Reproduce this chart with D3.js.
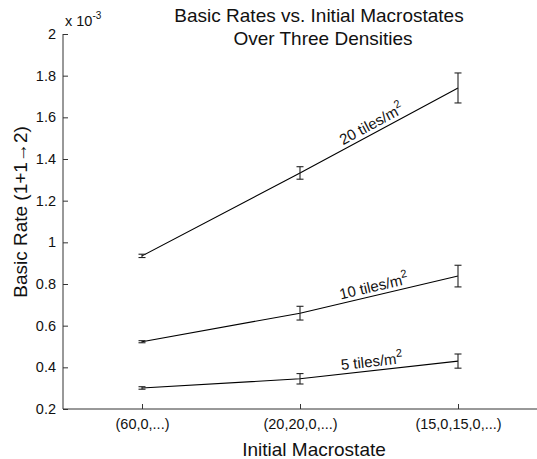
<!DOCTYPE html>
<html>
<head>
<meta charset="utf-8">
<title>Basic Rates vs. Initial Macrostates</title>
<script src="https://d3js.org/d3.v7.min.js"></script>
<style>
  body { margin: 0; background: #fff; }
  text { font-family: "Liberation Sans", Arial, sans-serif; fill: #111; }
</style>
</head>
<body>
<script>

// data (values in units of 1e-3)
var macrostates = ["(60,0,...)", "(20,20,0,...)", "(15,0,15,0,...)"];
var densities = ["20 tiles/m", "10 tiles/m", "5 tiles/m"];
var rate20 = [0.935, 1.333, 1.741];
var err20 = [0.008, 0.030, 0.072];
var rate10 = [0.523, 0.660, 0.838];
var err10 = [0.005, 0.033, 0.052];
var rate5 = [0.301, 0.345, 0.430];
var err5 = [0.006, 0.025, 0.034];
var yTicks = [0.2, 0.4, 0.6, 0.8, 1, 1.2, 1.4, 1.6, 1.8, 2];

var series = [
  {name: densities[0], vals: rate20, errs: err20, labelAt: 2.48},
  {name: densities[1], vals: rate10, errs: err10, labelAt: 2.48},
  {name: densities[2], vals: rate5, errs: err5, labelAt: 2.46}
];

var margin = {top: 34, right: 0, bottom: 50, left: 63},
    width = 537 - margin.left - margin.right,
    height = 459 - margin.top - margin.bottom;

var svg = d3.select("body").append("svg")
    .attr("width", 537)
    .attr("height", 459);

var g = svg.append("g")
    .attr("transform", "translate(" + margin.left + "," + margin.top + ")");

var x = d3.scaleLinear().domain([0.5, 3.5]).range([0, width]);
var y = d3.scaleLinear().domain([0.2, 2]).range([height, 0]);

// axes: matlab style, ticks inward
var yAxis = d3.axisLeft(y).tickValues(yTicks).tickSize(-5).tickPadding(7)
    .tickFormat(function(d) { return d3.format("")(+d.toFixed(1)); });
var xAxis = d3.axisBottom(x).tickValues([1, 2, 3]).tickSize(-5).tickPadding(10)
    .tickFormat(function(d) { return macrostates[d - 1]; });

g.append("g")
    .attr("class", "y axis")
    .call(yAxis)
    .call(function(s) {
      s.select(".domain").attr("d", "M0," + height + "V0").attr("stroke", "#333");
      s.selectAll(".tick line").attr("stroke", "#333");
      s.selectAll(".tick text").style("font-size", "14.5px");
    });

g.append("g")
    .attr("class", "x axis")
    .attr("transform", "translate(0," + height + ")")
    .call(xAxis)
    .call(function(s) {
      s.select(".domain").attr("d", "M0,0H" + width).attr("stroke", "#333");
      s.selectAll(".tick line").attr("stroke", "#333");
      s.selectAll(".tick text").style("font-size", "14.5px");
    });

// exponent label
var expo = g.append("text")
    .attr("x", 2)
    .attr("y", -8)
    .style("font-size", "14.5px");
expo.append("tspan").text("x 10");
expo.append("tspan").attr("dy", -7).style("font-size", "10px").text("-3");

var line = d3.line()
    .x(function(d, i) { return x(i + 1); })
    .y(function(d) { return y(d); });

series.forEach(function(s) {
  g.append("path")
      .datum(s.vals)
      .attr("fill", "none")
      .attr("stroke", "#000")
      .attr("stroke-width", 1.1)
      .attr("d", line);

  var eb = g.selectAll(null)
      .data(s.vals.map(function(v, i) { return {v: v, e: s.errs[i], i: i}; }))
      .enter().append("g")
      .attr("stroke", "#222")
      .attr("stroke-width", 1.1);
  eb.append("line")
      .attr("x1", function(d) { return x(d.i + 1); })
      .attr("x2", function(d) { return x(d.i + 1); })
      .attr("y1", function(d) { return y(d.v - d.e); })
      .attr("y2", function(d) { return y(d.v + d.e); });
  [-1, 1].forEach(function(sg) {
    eb.append("line")
        .attr("x1", function(d) { return x(d.i + 1) - 3.5; })
        .attr("x2", function(d) { return x(d.i + 1) + 3.5; })
        .attr("y1", function(d) { return y(d.v + sg * d.e); })
        .attr("y2", function(d) { return y(d.v + sg * d.e); });
  });

  // label along the segment between point 2 and 3
  var t = s.labelAt - 2;
  var lx = x(s.labelAt);
  var ly = y(s.vals[1] + (s.vals[2] - s.vals[1]) * t);
  var ang = Math.atan2(y(s.vals[2]) - y(s.vals[1]), x(3) - x(2)) * 180 / Math.PI;
  var lab = g.append("text")
      .attr("transform", "translate(" + lx + "," + ly + ") rotate(" + ang + ")")
      .attr("text-anchor", "middle")
      .attr("dy", -4)
      .style("font-size", "15px");
  lab.append("tspan").text(s.name);
  lab.append("tspan").attr("dy", -7).style("font-size", "11px").text("2");
});

// titles
svg.append("text")
    .attr("x", 319).attr("y", 22)
    .attr("text-anchor", "middle")
    .style("font-size", "19px")
    .text("Basic Rates vs. Initial Macrostates");
svg.append("text")
    .attr("x", 323).attr("y", 45)
    .attr("text-anchor", "middle")
    .style("font-size", "19px")
    .text("Over Three Densities");

svg.append("text")
    .attr("x", 314).attr("y", 456)
    .attr("text-anchor", "middle")
    .style("font-size", "19px")
    .text("Initial Macrostate");

svg.append("text")
    .attr("transform", "translate(27,212) rotate(-90)")
    .attr("text-anchor", "middle")
    .style("font-size", "19px")
    .text("Basic Rate (1+1\u21922)");

</script>
</body>
</html>
